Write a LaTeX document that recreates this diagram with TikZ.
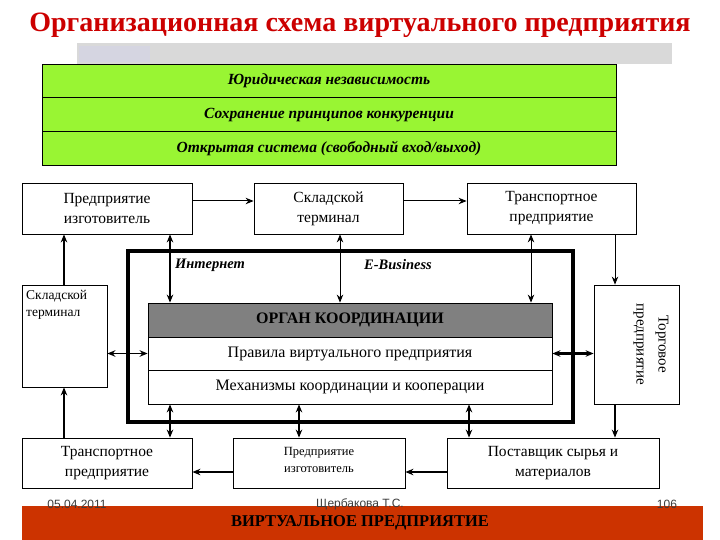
\documentclass[tikz,border=0pt]{standalone}
\usepackage{fontspec}
\setmainfont{Liberation Serif}
\setsansfont{Liberation Sans}
\usetikzlibrary{arrows.meta}
\definecolor{titlered}{RGB}{204,0,0}
\definecolor{lgreen}{RGB}{153,245,51}
\definecolor{barred}{RGB}{204,51,0}
\definecolor{lgray}{RGB}{217,217,217}
\definecolor{lav}{RGB}{213,213,225}
\definecolor{orgray}{RGB}{128,128,128}
\definecolor{foot}{RGB}{60,60,60}
\begin{document}
\begin{tikzpicture}[x=1pt,y=-1pt,
  box/.style={draw, line width=0.8pt, fill=white, inner sep=0pt, align=center,
    font=\fontsize{15.5}{20}\selectfont},
  greenrow/.style={draw, line width=1pt, fill=lgreen, inner sep=0pt,
    minimum width=574pt, minimum height=33.67pt,
    font=\fontsize{15.5}{17}\selectfont\bfseries\itshape},
  orow/.style={draw, line width=0.8pt, fill=white, inner sep=0pt,
    minimum width=404pt, font=\fontsize{16}{18}\selectfont},
  mytip/.tip={Stealth[length=8pt,width=6.5pt]},
  arr/.style={-mytip, line width=1pt},
  darr/.style={mytip-mytip, line width=1pt},
  warr/.style={-mytip, line width=2pt},
  wdarr/.style={mytip-mytip, line width=2pt},
  ftxt/.style={font=\sffamily\fontsize{12}{14}\selectfont, text=foot, inner sep=0pt},
  labtxt/.style={font=\fontsize{14.5}{16}\selectfont\bfseries\itshape}
]
\useasboundingbox (0,0) rectangle (720,540);
\fill[white] (0,0) rectangle (720,540);

% title
\node[font=\fontsize{28}{32}\selectfont\bfseries, text=titlered] (title) at (360,25)
  {Организационная схема виртуального предприятия};

% grey bar
\fill[lgray] (77,43) rectangle (672,64);
\fill[lav] (79,46) rectangle (150,62);

% green block
\node[greenrow] (g1) at (329,81) {Юридическая независимость};
\node[greenrow] (g2) at (329,114.67) {Сохранение принципов конкуренции};
\node[greenrow] (g3) at (329,148.33) {Открытая система (свободный вход/выход)};

% top boxes
\node[box, minimum width=170pt, minimum height=51pt] (b1) at (107,208.5) {Предприятие\\изготовитель};
\node[box, minimum width=149pt, minimum height=51pt] (b2) at (328.5,208.5) {Складской\\терминал};
\node[box, minimum width=169pt, minimum height=51pt] (b3) at (551.5,208.5) {Транспортное\\предприятие};

% thick frame
\draw[line width=4pt] (128,251) rectangle (573,422);
\node[labtxt] (inet) at (210,265) {Интернет};
\node[labtxt] (ebus) at (398,265) {E-Business};

% coordination organ
\node[orow, fill=orgray, minimum height=34pt, font=\fontsize{16}{18}\selectfont\bfseries] (o1) at (350,320) {ОРГАН КООРДИНАЦИИ};
\node[orow, minimum height=33pt] (o2) at (350,353.5) {Правила виртуального предприятия};
\node[orow, minimum height=34pt] (o3) at (350,387) {Механизмы координации и кооперации};

% side boxes
\node[box, minimum width=85pt, minimum height=102pt] (lt) at (64.5,336) {};
\node[anchor=north west, inner sep=0pt, align=left, font=\fontsize{13.5}{17}\selectfont] (lttext) at (26,290) {Складской\\терминал};
\node[box, minimum width=85pt, minimum height=119pt] (rt) at (636.5,344.5) {};
\node[rotate=-90, align=center, inner sep=0pt, font=\fontsize{15}{22}\selectfont] (rttext) at (651,344.5) {Торговое\\предприятие};

% bottom boxes
\node[box, minimum width=170pt, minimum height=50pt] (bl) at (107,463) {Транспортное\\предприятие};
\node[box, minimum width=172pt, minimum height=50pt] (bm) at (319,463) {};
\node[align=center, inner sep=0pt, font=\fontsize{12.5}{17}\selectfont] (bmtext) at (319,460) {Предприятие\\изготовитель};
\node[box, minimum width=212pt, minimum height=50pt] (br) at (553,463) {Поставщик сырья и\\материалов};

% connectors
\draw[arr] ([yshift=7.5pt]b1.east) -- ([yshift=7.5pt]b2.west);
\draw[arr] ([yshift=7.5pt]b2.east) -- ([yshift=7.5pt]b3.west);
\draw[warr] (64,0 |- lt.north) -- (64,0 |- b1.south);
\draw[wdarr] (170,0 |- b1.south) -- (170,0 |- o1.north);
\draw[darr] (340,0 |- b2.south) -- (340,0 |- o1.north);
\draw[darr] (531,0 |- b3.south) -- (531,0 |- o1.north);
\draw[arr] (615,0 |- b3.south) -- (615,0 |- rt.north);
\draw[darr, line width=1.5pt] (lt.east |- o2.west) -- (o2.west);
\draw[wdarr, line width=2.5pt] (o2.east) -- (rt.west |- o2.east);
\draw[wdarr] (170,0 |- o3.south) -- (170,0 |- bl.north);
\draw[wdarr] (299,0 |- o3.south) -- (299,0 |- bm.north);
\draw[wdarr] (469,0 |- o3.south) -- (469,0 |- br.north);
\draw[warr] (615,0 |- rt.south) -- (615,0 |- br.north);
\draw[warr] (64,0 |- bl.north) -- (64,0 |- lt.south);
\draw[warr] (bm.west |- 0,472) -- (bl.east |- 0,472);
\draw[warr] (br.west |- 0,472) -- (bm.east |- 0,472);

% footer
\fill[barred] (22,506) rectangle (703,540);
\node[font=\fontsize{16.5}{18}\selectfont\bfseries] (ftitle) at (360,523) {ВИРТУАЛЬНОЕ ПРЕДПРИЯТИЕ};
\node[ftxt] (date) at (77,504) {05.04.2011};
\node[ftxt] (author) at (360,504) {Щербакова Т.С.};
\node[ftxt] (page) at (667,504) {106};
\end{tikzpicture}
\end{document}
